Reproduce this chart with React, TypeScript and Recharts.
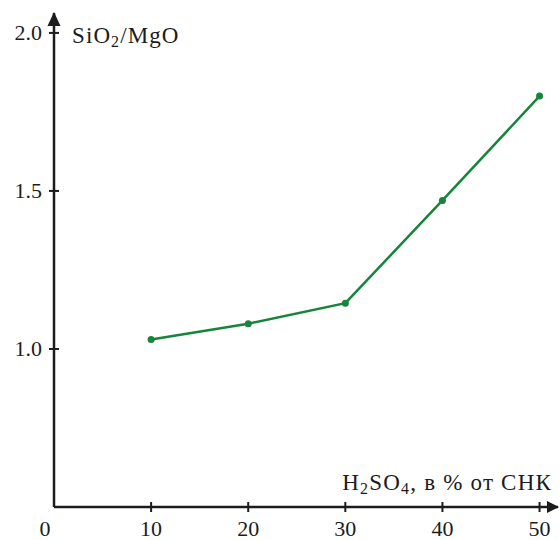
import { LineChart, Line, XAxis, YAxis } from 'recharts'

const acidShare = [10, 20, 30, 40, 50]
const silicaRatio = [1.03, 1.08, 1.145, 1.47, 1.8]
const xTicks = [0, 10, 20, 30, 40, 50]
const yTicks = [1.0, 1.5, 2.0]

const data = acidShare.map((x, i) => ({ x, ratio: silicaRatio[i] }))

const FONT = '"Liberation Serif", "Times New Roman", serif'
const INK = '#1c1c1c'
const GREEN = '#16843a'

const XTick = ({ x, y, payload }: any) => {
  const zero = payload.value === 0
  return (
    <g>
      {!zero && <line x1={x} x2={x} y1={y - 5} y2={y + 5} stroke={INK} strokeWidth={2} />}
      <text
        x={zero ? x - 9 : x}
        y={y + 29}
        textAnchor="middle"
        fontFamily={FONT}
        fontSize={22}
        fill={INK}
      >
        {payload.value}
      </text>
    </g>
  )
}

const YTick = ({ x, y, payload }: any) => (
  <g>
    <line x1={x - 5} x2={x + 5} y1={y} y2={y} stroke={INK} strokeWidth={2} />
    <text x={x - 12} y={y + 7.5} textAnchor="end" fontFamily={FONT} fontSize={22} fill={INK}>
      {payload.value.toFixed(1)}
    </text>
  </g>
)

const XTitle = ({ viewBox }: any) => {
  const { x, y, width } = viewBox
  const end = x + width
  return (
    <g>
      <polygon points={`${end + 1},${y} ${end - 11},${y - 6} ${end - 11},${y + 6}`} fill={INK} />
      <text
        x={end - 6}
        y={y - 17}
        textAnchor="end"
        fontFamily={FONT}
        fontSize={23}
        letterSpacing={1.2}
        fill={INK}
      >
        H<tspan fontSize={16} dy={4}>2</tspan>
        <tspan dy={-4}>SO</tspan>
        <tspan fontSize={16} dy={4}>4</tspan>
        <tspan dy={-4}>, в % от СНК</tspan>
      </text>
    </g>
  )
}

const YTitle = ({ viewBox }: any) => {
  const { x, y, width } = viewBox
  const ax = x + width
  return (
    <g>
      <polygon points={`${ax},${y - 1} ${ax - 6.5},${y + 13} ${ax + 6.5},${y + 13}`} fill={INK} />
      <text x={ax + 18} y={y + 30} fontFamily={FONT} fontSize={23} letterSpacing={1.1} fill={INK}>
        SiO<tspan fontSize={16} dy={4}>2</tspan>
        <tspan dy={-4}>/MgO</tspan>
      </text>
    </g>
  )
}

export default function App() {
  return (
    <div style={{ position: 'absolute', left: 0, top: 0, background: '#fff' }}>
      <LineChart width={560} height={540} data={data} margin={{ top: 13, right: 2, left: 0, bottom: 0 }}>
        <XAxis
          dataKey="x"
          type="number"
          domain={[0, 51.9]}
          ticks={xTicks}
          height={33}
          axisLine={{ stroke: INK, strokeWidth: 2.5 }}
          tickLine={false}
          tickSize={0}
          tickMargin={0}
          tick={<XTick />}
          interval={0}
          label={XTitle}
        />
        <YAxis
          type="number"
          domain={[0.5, 2.063]}
          ticks={yTicks}
          width={54}
          axisLine={{ stroke: INK, strokeWidth: 2.5 }}
          tickLine={false}
          tickSize={0}
          tickMargin={0}
          tick={<YTick />}
          interval={0}
          label={YTitle}
        />
        <Line
          dataKey="ratio"
          type="linear"
          stroke={GREEN}
          strokeWidth={2.5}
          dot={{ r: 3.5, fill: GREEN, stroke: GREEN, strokeWidth: 0 }}
          isAnimationActive={false}
        />
      </LineChart>
    </div>
  )
}
